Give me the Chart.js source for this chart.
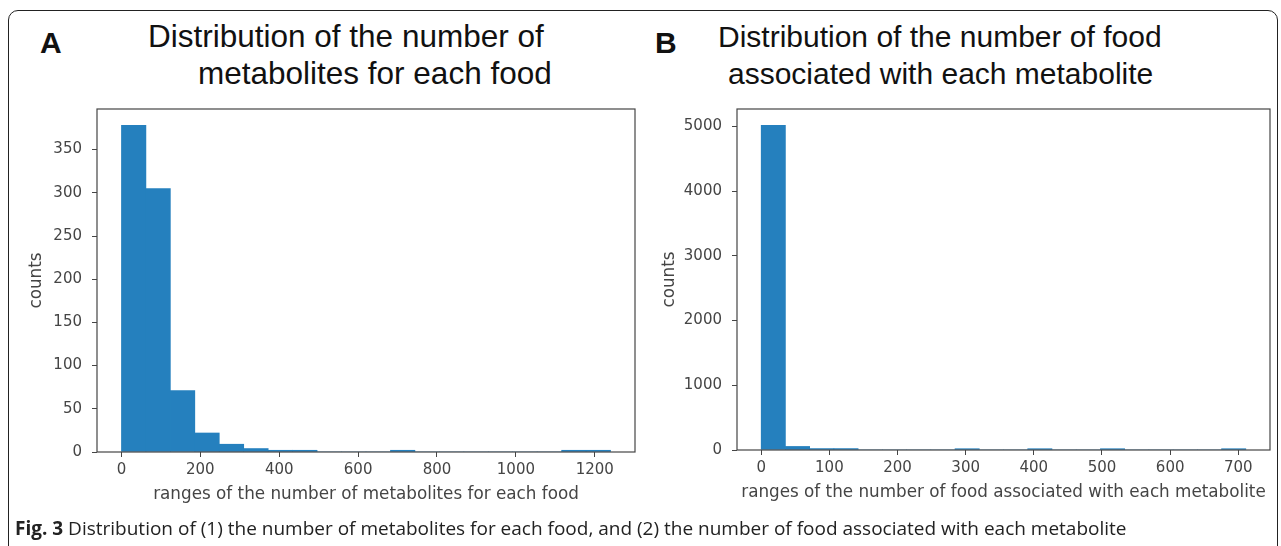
<!DOCTYPE html>
<html>
<head>
<meta charset="utf-8">
<script src="https://cdn.jsdelivr.net/npm/chart.js@4.4.0/dist/chart.umd.min.js"></script>
<style>
  body { margin: 0; background: #fff; width: 1281px; height: 546px; overflow: hidden; position: relative; font-family: "Liberation Sans", Arial, sans-serif; }
  .frame { position: absolute; left: 8px; top: 10px; width: 1270px; height: 570px; border: 1.5px solid #222; border-radius: 10px; box-sizing: border-box; }
  .letter { position: absolute; font-weight: bold; font-size: 30px; line-height: 1; color: #111; }
  .title { position: absolute; font-size: 30px; line-height: 1; color: #111; white-space: nowrap; }
  .box { position: absolute; top: 90px; width: 640px; height: 430px; }
  .caption { position: absolute; left: 15px; top: 519px; font-family: "Open Sans", sans-serif; font-size: 19px; line-height: 1; color: #222; white-space: nowrap; }
</style>
</head>
<body>
<div class="frame"></div>

<div class="letter" style="left:40px; top:28px;">A</div>
<div class="title" style="left:148px; top:21px; font-size:31.5px;">Distribution of the number of</div>
<div class="title" style="left:198px; top:58px; font-size:31.5px;">metabolites for each food</div>

<div class="letter" style="left:655px; top:28px;">B</div>
<div class="title" style="left:718px; top:22px;">Distribution of the number of food</div>
<div class="title" style="left:728px; top:59px;">associated with each metabolite</div>

<div class="box" style="left:0px;"><canvas id="chart1"></canvas></div>
<div class="box" style="left:640px;"><canvas id="chart2"></canvas></div>

<div class="caption"><b>Fig. 3</b> Distribution of (1) the number of metabolites for each food, and (2) the number of food associated with each metabolite</div>

<script>
// panel A: metabolites per food (20 bins)
const binStartA = [0, 62, 124, 186, 248, 310, 372, 434, 496, 558, 620, 682, 744, 806, 868, 930, 992, 1054, 1116, 1178];
const binWidthA = 62;
const countsA = [378, 305, 71, 22, 9, 4, 2, 2, 0, 0, 0, 2, 0, 0, 0, 0, 0, 0, 2, 2];
const xTicksA = [0, 200, 400, 600, 800, 1000, 1200];
const yTicksA = [0, 50, 100, 150, 200, 250, 300, 350];

// panel B: foods per metabolite (20 bins)
const binStartB = [0, 35.55, 71.1, 106.65, 142.2, 177.75, 213.3, 248.85, 284.4, 319.95, 355.5, 391.05, 426.6, 462.15, 497.7, 533.25, 568.8, 604.35, 639.9, 675.45];
const binWidthB = 35.55;
const countsB = [5017, 55, 22, 22, 0, 0, 0, 0, 20, 0, 0, 20, 0, 0, 20, 0, 0, 0, 0, 20];
const xTicksB = [0, 100, 200, 300, 400, 500, 600, 700];
const yTicksB = [0, 1000, 2000, 3000, 4000, 5000];

const barColor = '#2580be';
const inkColor = '#454545';
const tickFont = { family: 'DejaVu Sans', size: 15 };
const labelFont = { family: 'DejaVu Sans', size: 16.8 };

// matplotlib style box around the plot area
const boxPlugin = {
  id: 'box',
  afterDatasetsDraw(chart) {
    const a = chart.chartArea;
    const ctx = chart.ctx;
    ctx.save();
    ctx.strokeStyle = inkColor;
    ctx.lineWidth = 1.2;
    ctx.strokeRect(a.left, a.top, a.right - a.left, a.bottom - a.top);
    ctx.restore();
  }
};

function histPoints(starts, width, counts) {
  return starts.map((s, i) => ({ x: s + width / 2, y: counts[i] }));
}

const plainTick = v => String(v);

const config1 = {
  type: 'bar',
  data: {
    datasets: [{
      data: histPoints(binStartA, binWidthA, countsA),
      backgroundColor: barColor,
      borderWidth: 0,
      barPercentage: 1,
      categoryPercentage: 1
    }]
  },
  options: {
    responsive: true,
    maintainAspectRatio: false,
    animation: false,
    layout: { padding: { left: 0, right: 5, top: 11, bottom: 0 } },
    plugins: { legend: { display: false }, tooltip: { enabled: false } },
    scales: {
      x: {
        type: 'linear',
        min: -62,
        max: 1302,
        offset: false,
        afterBuildTicks: s => { s.ticks = xTicksA.map(v => ({ value: v })); },
        afterFit: s => { s.height = 68; },
        grid: { drawOnChartArea: false, offset: false, tickLength: 5, color: inkColor },
        border: { display: false },
        ticks: { color: inkColor, font: tickFont, padding: 4, maxRotation: 0, callback: plainTick },
        title: { display: true, text: 'ranges of the number of metabolites for each food', color: inkColor, font: labelFont, padding: { top: 0, bottom: 15 } }
      },
      y: {
        min: 0,
        max: 397,
        afterBuildTicks: s => { s.ticks = yTicksA.map(v => ({ value: v })); },
        afterFit: s => { s.width = 97; },
        grid: { drawOnChartArea: false, tickLength: 5, color: inkColor },
        border: { display: false },
        ticks: { color: inkColor, font: tickFont, padding: 10, callback: plainTick },
        title: { display: true, text: 'counts', color: inkColor, font: labelFont, padding: { top: 27, bottom: 0 } }
      }
    }
  },
  plugins: [boxPlugin]
};

var myChart1 = new Chart(document.getElementById('chart1'), config1);

const config2 = {
  type: 'bar',
  data: {
    datasets: [{
      data: histPoints(binStartB, binWidthB, countsB),
      backgroundColor: barColor,
      borderWidth: 0,
      barPercentage: 1,
      categoryPercentage: 1
    }]
  },
  options: {
    responsive: true,
    maintainAspectRatio: false,
    animation: false,
    layout: { padding: { left: 0, right: 10, top: 12, bottom: 0 } },
    plugins: { legend: { display: false }, tooltip: { enabled: false } },
    scales: {
      x: {
        type: 'linear',
        min: -35.5,
        max: 746.5,
        offset: false,
        afterBuildTicks: s => { s.ticks = xTicksB.map(v => ({ value: v })); },
        afterFit: s => { s.height = 70; },
        grid: { drawOnChartArea: false, offset: false, tickLength: 5, color: inkColor },
        border: { display: false },
        ticks: { color: inkColor, font: tickFont, padding: 4, maxRotation: 0, callback: plainTick },
        title: { display: true, text: 'ranges of the number of food associated with each metabolite', color: inkColor, font: labelFont, padding: { top: 0, bottom: 17 } }
      },
      y: {
        min: 0,
        max: 5268,
        afterBuildTicks: s => { s.ticks = yTicksB.map(v => ({ value: v })); },
        afterFit: s => { s.width = 97; },
        grid: { drawOnChartArea: false, tickLength: 5, color: inkColor },
        border: { display: false },
        ticks: { color: inkColor, font: tickFont, padding: 10, callback: plainTick },
        title: { display: true, text: 'counts', color: inkColor, font: labelFont, padding: { top: 20, bottom: 0 } }
      }
    }
  },
  plugins: [boxPlugin]
};

var myChart2 = new Chart(document.getElementById('chart2'), config2);
</script>
</body>
</html>
